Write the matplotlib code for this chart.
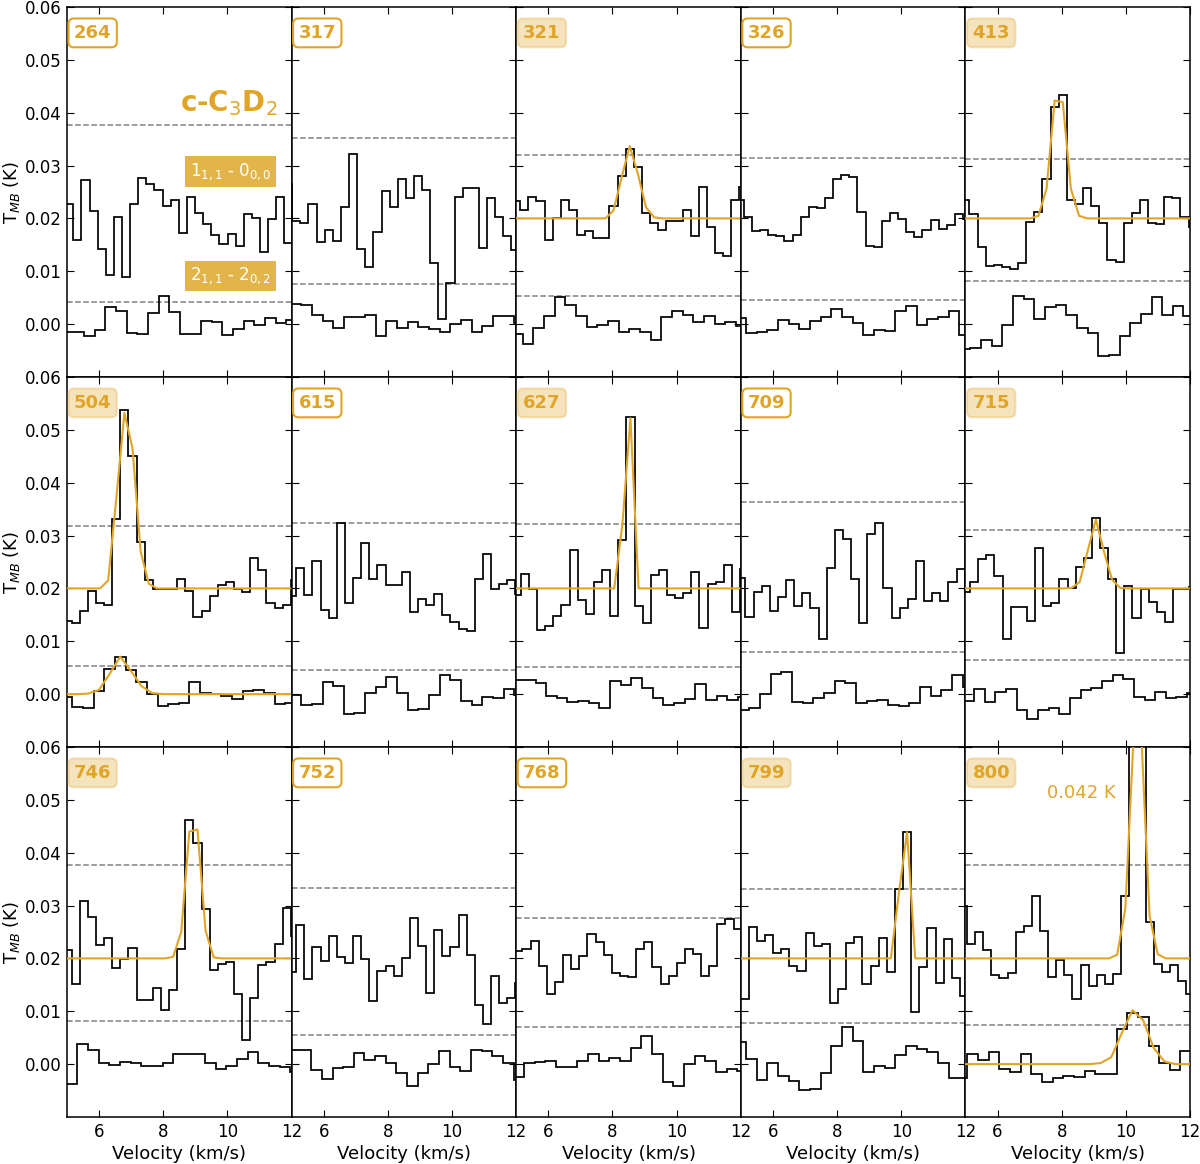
import matplotlib.pyplot as plt
import numpy as np

# sources, left to right, top to bottom
sources = ['264', '317', '321', '326', '413',
           '504', '615', '627', '709', '715',
           '746', '752', '768', '799', '800']
detected = ['321', '413', '504', '627', '715', '746', '799', '800']

# channel widths (km/s) and first channel centre of each spectrum
dv_hi = 0.253
dv_lo = 0.332
v0_hi = [5.07, 4.894, 4.998, 4.967, 4.998, 5.019, 5.019, 5.019, 5.019, 5.019,
         5.019, 5.019, 5.07, 5.122, 4.921]
v0_lo = [5.031, 5.134, 5.041, 5.0, 4.99, 5.0, 5.134, 5.104, 5.104, 5.104,
         5.156, 5.114, 5.083, 5.0, 4.896]

# 3 sigma levels (mK)
rms3_hi = [17.7, 15.3, 12.0, 11.4, 11.3, 11.8, 12.3, 12.2, 16.3, 11.0, 17.7, 13.3, 7.6, 13.2, 17.7]
rms3_lo = [4.2, 7.5, 5.4, 4.6, 8.1, 5.3, 4.6, 5.1, 8.0, 6.5, 8.2, 5.6, 7.1, 7.8, 7.4]

# 1(1,1)-0(0,0) spectra, mK (plotted with +0.02 K offset)
hi_264 = [2.7, -4.0, 7.3, 1.4, -5.7, -10.8, 0.2, -11.0, 2.7, 7.6, 6.5, 5.3, 2.3, 3.5, -2.7, 4.0,
          1.0, -1.0, -3.2, -4.9, -3.0, -5.2, 0.8, 0.1, -6.3, -0.1, 4.0, -4.7]
hi_317 = [6.6, -0.4, -0.8, 2.7, -4.4, -2.2, -4.2, 2.2, 12.1, -5.7, -9.1, -2.5, 5.2, 2.1, 7.5, 3.9,
          8.0, 5.4, -8.4, -19.1, -12.2, 4.1, 5.7, 5.7, -5.6, 3.9, 0.2, -3.3, -6.0]
hi_321 = [3.2, 1.6, 4.1, 3.2, -4.1, 0.1, 3.5, 1.6, -3.2, -2.3, -3.8, -3.8, 2.3, 8.0, 13.2, 9.8,
          1.0, -0.9, -2.2, -0.4, -0.4, 1.5, -3.3, 5.9, -1.7, -6.6, -7.1, 3.4, 6.0]
hi_326 = [3.5, 0.2, -2.3, -2.1, -3.1, -3.3, -4.2, -3.1, 0.3, 2.1, 1.9, 3.9, 7.5, 8.2, 7.8, 1.3,
          -5.2, -5.4, -0.4, 1.1, -0.2, -2.5, -3.6, -2.2, -0.3, -2.0, -1.2, 0.8, -0.1]
hi_413 = [3.4, 0.9, -5.5, -9.0, -8.9, -9.1, -9.6, -8.4, -0.6, 1.3, 7.5, 21.1, 23.3, 3.5, 2.7, 5.8,
          2.3, -0.9, -7.9, -8.2, -0.9, 1.0, 3.4, -0.9, -1.1, 4.0, 3.9, 0.2, -1.7]
hi_504 = [-6.1, -6.5, -4.3, -0.4, -2.8, -3.1, 13.2, 33.8, 25.1, 8.7, 1.6, -0.1, -0.2, -0.2, 1.8, -0.5,
          -5.4, -4.3, -1.5, 0.7, 1.3, -0.1, -0.7, 5.8, 3.5, -2.7, -3.7, -3.2, 1.5]
hi_615 = [-1.5, 3.9, -1.2, 5.1, -4.1, -5.6, 12.3, -2.8, 2.0, 8.6, 1.7, 4.5, 0.6, 0.6, 3.1, -4.4,
          -2.0, -3.2, -1.1, -5.1, -6.3, -7.7, -8.0, 1.8, 6.6, -0.2, 0.9, 1.6, -1.1]
hi_627 = [-1.2, 2.8, -0.1, -7.8, -7.2, -5.3, -3.1, 7.3, -2.2, -4.9, 1.2, 3.4, -5.3, 9.2, 32.4, -3.4,
          -6.6, 2.6, 3.4, -1.2, -1.8, -0.9, 3.1, -7.5, 0.9, 1.2, 4.5, -4.4, 3.7]
hi_709 = [2.0, -5.4, -0.7, 0.4, -4.2, -1.6, 1.6, -3.4, -0.8, -3.7, -9.6, 3.9, 11.0, 9.3, 1.7, -6.5,
          10.3, 12.3, 0.1, -5.6, -3.7, -2.0, 5.1, -2.3, -0.9, -2.4, 1.3, 3.7, 0.9]
hi_715 = [-0.7, 1.3, 5.6, 6.3, 2.3, -9.6, -3.5, -3.5, -6.1, 7.7, -3.4, -2.8, 1.8, 0.1, 4.1, 5.8,
          13.4, 7.7, 1.8, -12.3, 0.4, -5.6, -0.2, -2.5, -4.5, -6.3, -0.1, -0.1, 0.3]
hi_746 = [1.6, -4.8, 10.9, 7.8, 2.5, 3.9, -1.8, -0.2, 1.9, -7.8, -7.8, -5.6, -9.7, -5.9, 1.8, 26.2,
          21.8, 9.4, -2.2, -1.1, -0.6, -6.8, -15.4, -7.5, -1.3, -0.6, 2.7, 9.5, 4.2]
hi_752 = [-2.6, 6.3, -3.9, 2.2, -0.5, 4.2, 0.3, -0.9, 4.2, -0.2, -8.0, -2.3, -1.5, -3.4, 0.1, 7.6,
          2.3, -6.6, 5.4, 0.4, 2.2, 8.2, 0.7, -8.9, -12.5, -3.4, -8.5, -7.5, -4.6]
hi_768 = [1.4, 1.7, 3.3, -1.5, -6.8, -4.4, 0.6, -2.0, 0.4, 4.6, 3.1, 0.6, -2.7, -3.4, -3.5, 1.7,
          3.1, -1.6, -4.8, -3.4, -0.9, 1.7, 0.8, -3.4, -1.5, 6.6, 7.4, 5.6]
hi_799 = [-7.7, 5.9, 3.3, 4.4, 1.1, 1.8, -1.5, -2.3, 4.9, 2.3, 2.7, -8.4, -5.8, 2.9, 4.1, -4.8,
          -1.5, 3.8, -2.5, 13.1, 23.9, -10.2, -1.6, 5.8, -4.7, 3.6, -3.7, -7.2]
hi_800 = [9.9, 2.7, 5.0, 1.6, -3.2, -3.8, -2.7, 5.0, 6.1, 11.8, 5.2, -3.5, -0.3, -3.2, -7.6, -1.3,
          -5.3, -3.2, -4.9, -2.9, 11.8, 42.0, 41.0, 6.9, -1.1, -2.6, -1.3, -4.2, -6.8]

# 2(1,1)-2(0,2) spectra, mK
lo_264 = [-1.5, -1.4, -2.3, -1.2, 3.3, 2.5, -1.7, -1.9, 2.1, 5.4, 2.2, -1.8, -1.9, 0.5, 0.4, -2.1,
          -1.0, 0.5, -0.1, 1.1, 0.2, 0.8]
lo_317 = [3.9, 3.6, 1.8, 0.6, -0.7, 1.4, 1.4, 1.8, -2.3, 0.6, -0.8, 0.4, -0.6, -1.0, -1.5, 0.1,
          0.7, -1.5, -0.4, 1.5, 1.6, 0.3]
lo_321 = [-1.8, -3.7, -0.8, 1.6, 5.2, 3.6, 1.6, -0.5, -0.1, 0.6, -1.5, -1.0, -1.5, -3.0, 1.3, 2.5,
          1.7, 0.4, 1.6, 0.1, 0.4, -0.3]
lo_326 = [1.1, -1.6, -1.5, -1.1, 0.8, 0.1, -0.9, 0.6, 1.4, 2.8, 1.4, 0.3, -2.0, -1.1, -1.3, 2.5,
          3.5, -0.1, 1.0, 1.3, 2.5, -2.1]
lo_413 = [-4.8, -4.5, -3.0, -4.2, -0.1, 5.3, 4.8, 1.0, 3.2, 3.6, 1.8, -0.7, -1.6, -6.1, -5.8, -2.2,
          0.3, 2.0, 5.2, 1.8, 3.5, 1.5]
lo_504 = [-0.6, -2.5, -2.7, 0.6, 4.7, 7.1, 4.6, 2.2, 0.0, -2.3, -1.8, -1.7, 2.2, 0.3, 0.1, -0.4,
          -0.9, 0.6, 0.8, 0.3, -1.9, -1.7]
lo_615 = [-0.1, -2.1, -1.9, 2.2, 1.6, -3.8, -3.6, 0.3, 1.3, 3.2, 0.3, -3.0, -2.8, -0.1, 3.6, 2.7,
          -1.3, -2.0, -0.6, -0.8, 0.9, -0.1]
lo_627 = [2.7, 2.7, 2.1, -0.3, -0.8, -1.5, -1.3, -1.7, -2.7, 2.4, 1.7, 3.0, 1.1, -0.8, -2.0, -1.7,
          -0.9, 1.9, -1.1, -0.4, -1.1, -0.5]
lo_709 = [-3.0, -2.7, 0.0, 3.9, 4.1, -1.5, -1.7, -0.8, 0.2, 2.4, 2.1, -1.7, -1.3, -1.1, -2.0, -2.2,
          -1.7, 1.3, -0.4, 0.8, 3.7, 1.4]
lo_715 = [-1.3, 0.9, -1.4, 0.4, 0.9, -3.0, -4.7, -3.0, -2.7, -3.8, -0.8, 0.8, 1.1, 2.5, 3.7, 2.8,
          -0.6, -1.1, 0.4, -0.8, -0.5, 0.3]
lo_746 = [-3.7, 3.9, 2.6, 0.3, -0.1, 0.4, 0.2, -0.3, -0.3, 0.2, 2.0, 2.0, 1.9, 0.3, -0.9, -0.4,
          1.0, 2.3, 0.2, -0.3, -0.6, -1.4]
lo_752 = [2.6, 2.6, -1.1, -2.8, -0.8, -0.6, 2.1, 0.8, 1.6, 0.2, -1.7, -4.2, -1.7, 0.1, 2.4, -0.6,
          -1.3, 2.7, 2.4, 1.6, 0.2, -3.0]
lo_768 = [-2.5, 0.2, 0.4, 0.6, -0.6, -0.6, 0.5, 1.9, 0.6, 1.1, 0.6, 3.0, 5.4, 1.9, -3.4, -4.1,
          0.1, 1.6, 0.5, -1.5, -0.9, -1.3]
lo_799 = [4.2, 1.0, -3.0, 0.3, -2.2, -3.1, -4.9, -4.7, -1.7, 3.4, 7.0, 4.3, -1.4, -0.3, -0.8, 1.8,
          3.4, 2.9, 2.3, 0.3, -2.7, -2.7]
lo_800 = [-2.7, 2.0, 0.8, 2.3, -1.0, -1.4, 1.9, -1.9, -3.3, -2.7, -2.3, -2.5, -1.3, -1.9, -1.9, 6.6,
          9.6, 8.9, 3.5, 0.3, -1.1, 2.5]

# gaussian fits sampled on the channel grid: (first channel, values in mK)
fit_hi = {'321': (11, [0, 1.5, 7.8, 13.7, 8.4, 2.1, 0.2]),
          '413': (9, [0.5, 5.6, 22.3, 22.0, 5.6, 0.5]),
          '504': (4, [0, 1.5, 17.0, 33.2, 26.5, 7.0, 0.9, 0]),
          '627': (12, [0, 12.0, 32.2, 0]),
          '715': (13, [0.1, 1.2, 7.2, 13.0, 6.9, 1.6, 0.1]),
          '746': (12, [0, 0.3, 5.0, 24.0, 24.4, 5.2, 0.2]),
          '799': (18, [0, 12.5, 23.9, 0]),
          '800': (18, [0, 0.7, 9.3, 41.0, 41.5, 8.0, 0.8, 0])}
fit_lo = {'504': (2, [0.1, 0.8, 3.8, 7.1, 4.4, 1.5, 0.2, 0]),
          '800': (13, [0.2, 1.3, 5.9, 10.2, 8.3, 3.0, 0.5, 0])}

spec_hi = {'264': hi_264, '317': hi_317, '321': hi_321, '326': hi_326, '413': hi_413,
           '504': hi_504, '615': hi_615, '627': hi_627, '709': hi_709, '715': hi_715,
           '746': hi_746, '752': hi_752, '768': hi_768, '799': hi_799, '800': hi_800}
spec_lo = {'264': lo_264, '317': lo_317, '321': lo_321, '326': lo_326, '413': lo_413,
           '504': lo_504, '615': lo_615, '627': lo_627, '709': lo_709, '715': lo_715,
           '746': lo_746, '752': lo_752, '768': lo_768, '799': lo_799, '800': lo_800}

offset = 0.02
orange = '#E0A526'


def model_line(ax, fit, v0, dv, n, off):
    k0, vals = fit
    # model is zero outside the listed channels; one extra channel each side
    chan = np.arange(-1, n + 1)
    model = np.zeros(len(chan))
    model[k0 + 1:k0 + 1 + len(vals)] = vals
    ax.plot(v0 + dv * chan, model * 1e-3 + off, color=orange, lw=1.5, zorder=3)


fig, axes = plt.subplots(3, 5, figsize=(12, 11.64), sharex=True, sharey=True)
fig.subplots_adjust(left=0.0558, right=0.9917, top=0.994, bottom=0.0404,
                    wspace=0, hspace=0)

for i, (ax, src) in enumerate(zip(axes.flat, sources)):
    hi = np.array(spec_hi[src]) * 1e-3
    lo = np.array(spec_lo[src]) * 1e-3
    e_hi = v0_hi[i] - dv_hi / 2 + dv_hi * np.arange(len(hi) + 1)
    e_lo = v0_lo[i] - dv_lo / 2 + dv_lo * np.arange(len(lo) + 1)

    ax.stairs(hi + offset, e_hi, baseline=None, color='k', lw=1.25, zorder=2)
    ax.stairs(lo, e_lo, baseline=None, color='k', lw=1.25, zorder=2)
    ax.axhline(offset + rms3_hi[i] * 1e-3, ls='--', color='gray', lw=1.1, zorder=1)
    ax.axhline(rms3_lo[i] * 1e-3, ls='--', color='gray', lw=1.1, zorder=1)

    if src in fit_hi:
        model_line(ax, fit_hi[src], v0_hi[i], dv_hi, len(hi), offset)
    if src in fit_lo:
        model_line(ax, fit_lo[src], v0_lo[i], dv_lo, len(lo), 0)

    if src in detected:
        box = dict(boxstyle='round,pad=0.3', fc=(0.878, 0.647, 0.149, 0.3),
                   ec=(0.878, 0.647, 0.149, 0.3), lw=1.5)
    else:
        box = dict(boxstyle='round,pad=0.3', fc='white', ec=orange, lw=1.5)
    ax.text(0.031, 0.93, src, transform=ax.transAxes, ha='left', va='center',
            fontsize=13, fontweight='bold', color=orange, bbox=box, zorder=5)

    ax.tick_params(direction='in', top=True, right=True, length=5, labelsize=12, pad=4)
    for sp in ax.spines.values():
        sp.set_linewidth(1.1)

ax0 = axes[0, 0]
ax0.text(0.938, 0.74, 'c-C$_3$D$_2$', transform=ax0.transAxes, ha='right', va='center',
         fontsize=20, fontweight='bold', color=orange)
lbl_box = dict(boxstyle='square,pad=0.3', fc='#E2B54A', ec='none')
ax0.text(0.91, 0.555, '1$_{1,1}$ - 0$_{0,0}$', transform=ax0.transAxes, ha='right',
         va='center', fontsize=12, color='white', bbox=lbl_box)
ax0.text(0.91, 0.273, '2$_{1,1}$ - 2$_{0,2}$', transform=ax0.transAxes, ha='right',
         va='center', fontsize=12, color='white', bbox=lbl_box)

axes[2, 4].text(0.516, 0.876, '0.042 K', transform=axes[2, 4].transAxes, ha='center',
                va='center', fontsize=13, color=orange)

ax0.set_xlim(5, 12)
ax0.set_ylim(-0.01, 0.06)
ax0.set_xticks([6, 8, 10, 12])
ax0.set_yticks(np.arange(0, 0.061, 0.01))
ax0.yaxis.set_major_formatter(plt.FormatStrFormatter('%.2f'))

for ax in axes[:, 0]:
    ax.set_ylabel('T$_{MB}$ (K)', fontsize=13, labelpad=2)
for ax in axes[2, :]:
    ax.set_xlabel('Velocity (km/s)', fontsize=13, labelpad=3)

fig.savefig('out.png', dpi=100)
